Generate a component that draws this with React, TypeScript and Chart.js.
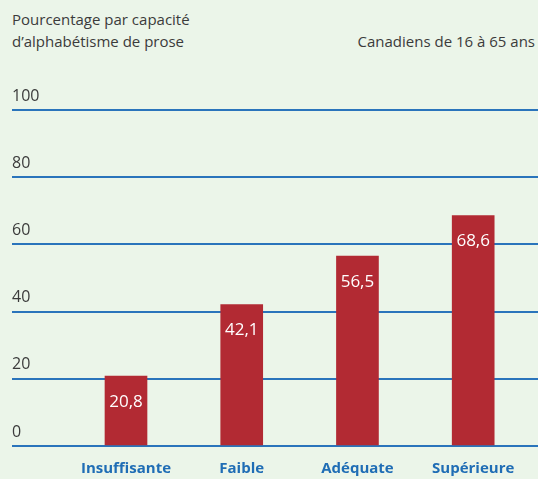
import React, { useEffect, useRef } from "react";
import { Chart, registerables } from "chart.js";

Chart.register(...registerables);

const categories = ["Insuffisante", "Faible", "Adéquate", "Supérieure"];
const values = [20.8, 42.1, 56.5, 68.6];
const valueLabels = ["20,8", "42,1", "56,5", "68,6"];
const yTicks = [0, 20, 40, 60, 80, 100];
const titleLines = ["Pourcentage par capacité", "d’alphabétisme de prose"];
const subtitle = "Canadiens de 16 à 65 ans";

const FONT = '"Open Sans", sans-serif';
const BG = "#ebf5e9";
const GRID = "#2a74bb";
const BAR = "#b22a33";
const TEXT = "#3b3b3b";
const XLAB = "#1f6db5";

const valueLabelPlugin = {
  id: "valueLabels",
  afterDatasetsDraw(chart: any) {
    const { ctx } = chart;
    const meta = chart.getDatasetMeta(0);
    ctx.save();
    ctx.fillStyle = "#ffffff";
    ctx.font = `17px ${FONT}`;
    ctx.textAlign = "center";
    ctx.textBaseline = "middle";
    meta.data.forEach((bar: any, i: number) => {
      ctx.fillText(valueLabels[i], bar.x, bar.y + 26);
    });
    ctx.restore();
  },
};

export default function App() {
  const ref = useRef<HTMLCanvasElement | null>(null);

  useEffect(() => {
    document.body.style.margin = "0";
    const canvas = ref.current;
    if (!canvas) return;
    const chart = new Chart(canvas, {
      type: "bar",
      data: {
        datasets: [
          {
            data: values.map((v, i) => ({ x: i + 1, y: v })),
            backgroundColor: BAR,
            barThickness: 42,
          },
        ],
      },
      options: {
        animation: false,
        responsive: false,
        maintainAspectRatio: false,
        layout: { padding: { top: 110, left: 12, right: 0, bottom: 2 } },
        plugins: {
          legend: { display: false },
          tooltip: { enabled: false },
        },
        scales: {
          x: {
            type: "linear",
            offset: false,
            min: 0.015,
            max: 4.56,
            afterBuildTicks: (scale: any) => {
              scale.ticks = categories.map((_, i) => ({ value: i + 1 }));
            },
            afterFit: (scale: any) => {
              scale.height = 31;
            },
            grid: { display: false, drawTicks: false },
            border: { display: false },
            ticks: {
              padding: 14,
              autoSkip: false,
              maxRotation: 0,
              color: XLAB,
              font: { family: FONT, size: 15, weight: "bold" },
              callback: (v: any) => categories[Math.round(Number(v)) - 1] ?? "",
            },
          },
          y: {
            min: 0,
            max: 100,
            afterBuildTicks: (scale: any) => {
              scale.ticks = yTicks.map((v) => ({ value: v }));
            },
            grid: { color: GRID, lineWidth: 2, drawTicks: false },
            border: { display: false },
            ticks: {
              mirror: true,
              padding: 0,
              labelOffset: -14,
              color: TEXT,
              font: { family: FONT, size: 16 },
            },
          },
        },
      },
      plugins: [valueLabelPlugin],
    });
    return () => chart.destroy();
  }, []);

  return (
    <div
      style={{
        position: "relative",
        width: 538,
        height: 479,
        background: BG,
        fontFamily: FONT,
        color: TEXT,
        overflow: "hidden",
      }}
    >
      <div style={{ position: "absolute", left: 12, top: 8, fontSize: 15, lineHeight: "22px" }}>
        {titleLines.map((l) => (
          <div key={l}>{l}</div>
        ))}
      </div>
      <div style={{ position: "absolute", right: 3, top: 30, fontSize: 15, lineHeight: "22px" }}>
        {subtitle}
      </div>
      <canvas ref={ref} width={538} height={479} style={{ position: "absolute", left: 0, top: 0 }} />
    </div>
  );
}
